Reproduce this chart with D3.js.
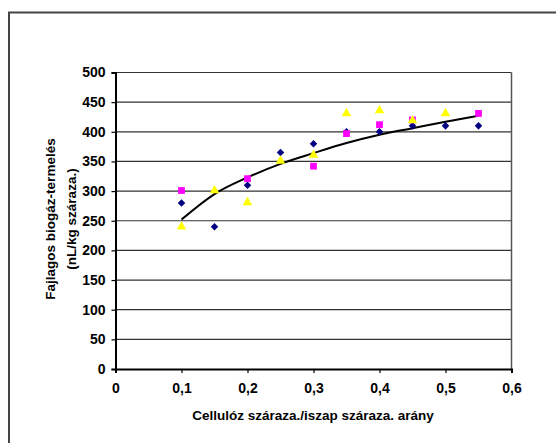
<!DOCTYPE html>
<html><head><meta charset="utf-8">
<script src="https://cdn.jsdelivr.net/npm/d3@7/dist/d3.min.js"></script>
<style>body{margin:0;background:#fff}svg text{font-family:"Liberation Sans",Arial,sans-serif;font-weight:bold;fill:#000}</style>
</head><body><svg id="c" width="556" height="443"></svg>
<script>
const xTicks = [0,0.1,0.2,0.3,0.4,0.5,0.6];
const yTicks = [0,50,100,150,200,250,300,350,400,450,500];
const xBlue = [0.1,0.15,0.2,0.25,0.3,0.35,0.4,0.45,0.5,0.55];
const yBlue = [280,240,310,365,380,400,400,410,410,410];
const xPink = [0.1,0.2,0.3,0.35,0.4,0.45,0.55];
const yPink = [301,321,342,397,412,420,431];
const xYellow = [0.1,0.15,0.2,0.25,0.3,0.35,0.4,0.45,0.5];
const yYellow = [240,301,281,351,361,431,436,419,431];
const xTrend = [0.1,0.15,0.2,0.25,0.3,0.35,0.4,0.45,0.5,0.55];
const yTrend = [252,295,323,346,364,381,395,406,417,427];

const svg = d3.select("#c");
const x = d3.scaleLinear().domain([0,0.6]).range([115.5,511.5]);
const y = d3.scaleLinear().domain([0,500]).range([369,72.5]);
const fmt = d => d===0 ? "0" : String(d).replace(".",",");

// outer frame
svg.append("path").attr("d","M9,443 V12.5 H556").attr("fill","none").attr("stroke","#444").attr("stroke-width",2);

// gridlines
svg.append("g").selectAll("line").data(yTicks.filter(d=>d>0)).join("line")
  .attr("x1",x(0)).attr("x2",x(0.6)).attr("y1",d=>y(d)).attr("y2",d=>y(d))
  .attr("stroke","#333").attr("stroke-width",1.2);
// right border
svg.append("line").attr("x1",x(0.6)).attr("x2",x(0.6)).attr("y1",y(500)).attr("y2",y(0)).attr("stroke","#555").attr("stroke-width",1.5);

// axes
const ya = svg.append("g").attr("transform",`translate(${x(0)},0)`)
  .call(d3.axisLeft(y).tickValues(yTicks).tickSize(4).tickPadding(6).tickFormat(fmt));
const xa = svg.append("g").attr("transform",`translate(0,${y(0)})`)
  .call(d3.axisBottom(x).tickValues(xTicks).tickSize(4).tickPadding(10).tickFormat(fmt));
[ya,xa].forEach(a=>{a.select(".domain").attr("stroke","#000").attr("stroke-width",2);
  a.selectAll(".tick line").attr("stroke","#000").attr("stroke-width",1.2);
  a.selectAll("text").style("font-size","14px").style("font-family","Liberation Sans, Arial, sans-serif").style("font-weight","bold").attr("fill","#000");});

// trend line
svg.append("path").datum(xTrend.map((v,i)=>[v,yTrend[i]]))
  .attr("d",d3.line().x(d=>x(d[0])).y(d=>y(d[1])).curve(d3.curveMonotoneX))
  .attr("fill","none").attr("stroke","#000").attr("stroke-width",2);

// markers
svg.append("g").selectAll("path").data(xBlue.map((v,i)=>[v,yBlue[i]])).join("path")
  .attr("d",d3.symbol(d3.symbolDiamond2,36)).attr("transform",d=>`translate(${x(d[0])},${y(d[1])})`).attr("fill","#000080");
svg.append("g").selectAll("path").data(xPink.map((v,i)=>[v,yPink[i]])).join("path")
  .attr("d",d3.symbol(d3.symbolSquare,46)).attr("transform",d=>`translate(${x(d[0])},${y(d[1])})`).attr("fill","#ff00ff");
svg.append("g").selectAll("path").data(xYellow.map((v,i)=>[v,yYellow[i]])).join("path")
  .attr("d",d3.symbol(d3.symbolTriangle,40)).attr("transform",d=>`translate(${x(d[0])},${y(d[1])})`).attr("fill","#ffff00");

// titles
svg.append("text").attr("x",313).attr("y",420).attr("text-anchor","middle").style("font-size","13.5px")
  .text("Cellulóz száraza./iszap száraza. arány");
const yt = svg.append("text").attr("transform","translate(0,219) rotate(-90)").attr("text-anchor","middle").style("font-size","13.5px");
yt.append("tspan").attr("x",0).attr("y",55).text("Fajlagos biogáz-termelés");
yt.append("tspan").attr("x",0).attr("y",76).text("(nL/kg száraza.)");
</script></body></html>
